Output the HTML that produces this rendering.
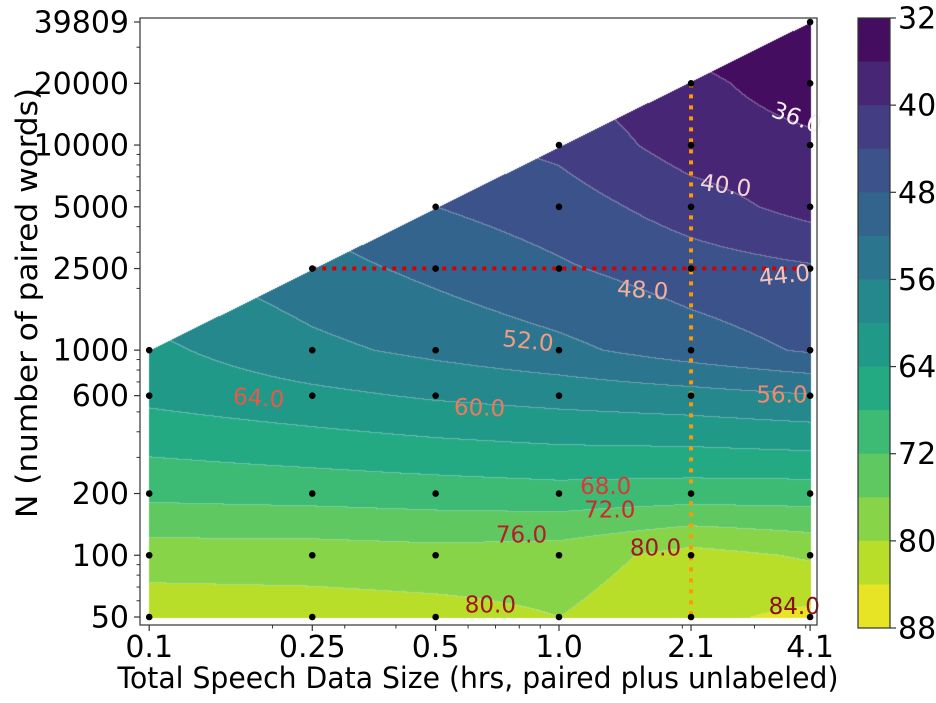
<!DOCTYPE html>
<html><head><meta charset="utf-8">
<style>
html,body{margin:0;padding:0;background:#fff;}
#wrap{position:relative;width:936px;height:703px;overflow:hidden;font-family:"DejaVu Sans","Liberation Sans",sans-serif;}
canvas{position:absolute;left:0;top:0;}
svg{position:absolute;left:0;top:0;}
</style></head>
<body>
<div id="wrap">
<canvas id="cv" width="936" height="703"></canvas>
<svg id="sv" width="936" height="703"></svg>
</div>
<script>
// ---- data ----
const xVals = [0.1, 0.25, 0.5, 1.0, 2.1, 4.1];
const yVals = [50, 100, 200, 600, 1000, 2500, 5000, 10000, 20000, 39809];
const row50    = [82.5, 82, 81.5, 80, 83, 85];
const row100   = [78, 78, 77.5, 78, 81.5, 79.5];
const row200   = [71, 70.5, 70, 69.5, 70, 70];
const row600   = [63, 61, 59.5, 58.5, 57.5, 56.3];
const row1000  = [61, 57, 55, 53, 50, 47.5];
const row2500  = [57, 53.5, 51, 48.5, 46, 44.5];
const row5000  = [54, 51, 48, 46, 42, 38.5];
const row10000 = [51, 48, 45, 43, 38, 36.8];
const row20000 = [48, 45, 42, 40, 37, 34];
const row39809 = [45, 42, 39, 37, 34, 32.5];
const levels = [32,36,40,44,48,52,56,60,64,68,72,76,80,84,88];
const cbTicks = [32,40,48,56,64,72,80,88];
const xTickLabels = ["0.1","0.25","0.5","1.0","2.1","4.1"];
const yTickLabels = ["50","100","200","600","1000","2500","5000","10000","20000","39809"];
const labelTexts = ["36.0","40.0","44.0","48.0","52.0","56.0","60.0","64.0","68.0","72.0","76.0","80.0","80.0","84.0"];
const labelX = [3.8, 2.55, 3.55, 1.6, 0.84, 3.5, 0.64, 0.185, 1.3, 1.33, 0.81, 1.72, 0.68, 3.75];
const labelY = [13500, 6300, 2300, 1950, 1100, 600, 520, 580, 215, 165, 125, 108, 57, 56];
const labelCol = ["#f5f0f5","#f6d3d6","#f7c1b7","#f2b09c","#ef9d86","#f08a6f","#ed7a5e","#e6594a","#d93a35","#cc2a2c","#b81d25","#a3151f","#a3151f","#8c0d1a"];
const labelRot = [20,8,-6,4,6,0,2,4,0,0,0,0,0,0];
const grid = [row50,row100,row200,row600,row1000,row2500,row5000,row10000,row20000,row39809];

// ---- axes ----
const X0=559, XS=409.8, Y0=617, YS=205.1, LY0=Math.log10(50);
function px(x){return X0+Math.log10(x)*XS;}
function py(y){return Y0-(Math.log10(y)-LY0)*YS;}
const FL=140, FR=817, FT=18, FB=625;

const vir=[[68,1,84],[72,36,117],[65,68,135],[53,95,141],[42,120,142],[33,145,140],[34,168,132],[68,191,112],[122,209,81],[189,223,38],[253,231,37]];
function viridis(t){t=Math.max(0,Math.min(1,t));const f=t*10,i=Math.min(9,Math.floor(f)),r=f-i;
 return vir[i].map((c,k)=>Math.round(c+(vir[i+1][k]-c)*r));}
function bandColor(i){return viridis((i+0.5)/(levels.length-1));}

const lxs=xVals.map(Math.log10), lys=yVals.map(Math.log10);
function seg(a,v){for(let i=0;i<a.length-2;i++){if(v<a[i+1])return i;}return a.length-2;}
function valAt(lx,ly){
 const i=seg(lxs,lx), j=seg(lys,ly);
 let tx=(lx-lxs[i])/(lxs[i+1]-lxs[i]), ty=(ly-lys[j])/(lys[j+1]-lys[j]);
 tx=Math.max(0,Math.min(1,tx)); ty=Math.max(0,Math.min(1,ty));
 const a=grid[j][i],b=grid[j][i+1],c=grid[j+1][i],d=grid[j+1][i+1];
 return (a*(1-tx)+b*tx)*(1-ty)+(c*(1-tx)+d*tx)*ty;
}
function band(v){let k=Math.floor((v-levels[0])/4);return Math.max(0,Math.min(levels.length-2,k));}

// ---- fill ----
const cv=document.getElementById('cv'),ctx=cv.getContext('2d');
const W=936,H=703,img=ctx.createImageData(W,H);
const xa=px(xVals[0]), xb=px(xVals[xVals.length-1]), yb=py(yVals[0]);
const yTopL=py(1000), yTopR=py(yVals[yVals.length-1]);
const B=new Int16Array(W*H).fill(-1);
for(let y=FT;y<=FB;y++)for(let x=Math.floor(xa);x<=Math.ceil(xb);x++){
 if(x<xa-0.5||x>xb+0.5||y>yb+0.5)continue;
 const topY=yTopL+(yTopR-yTopL)*(x-xa)/(xb-xa);
 if(y<topY)continue;
 const lx=(x-X0)/XS, ly=LY0+(Y0-y)/YS;
 B[y*W+x]=band(valAt(lx,ly));
}
for(let y=0;y<H;y++)for(let x=0;x<W;x++){
 const k=B[y*W+x]; if(k<0)continue;
 let c=bandColor(k);
 const r=B[y*W+x+1], d=B[(y+1)*W+x];
 if((r>=0&&r!==k)||(d>=0&&d!==k)){c=c.map(v=>Math.round(v*0.7+255*0.3));}
 const o=(y*W+x)*4; img.data[o]=c[0];img.data[o+1]=c[1];img.data[o+2]=c[2];img.data[o+3]=255;
}
ctx.putImageData(img,0,0);

// ---- svg overlay ----
const NS='http://www.w3.org/2000/svg', sv=document.getElementById('sv');
function mk(t,attrs,parent){const e=document.createElementNS(NS,t);for(const k in attrs)e.setAttribute(k,attrs[k]);(parent||sv).appendChild(e);return e;}

const refH=mk('line',{x1:px(0.25),x2:px(3.8),y1:py(2500),y2:py(2500),stroke:'#d40000','stroke-width':4,'stroke-dasharray':'4 6'});


const refV=mk('line',{x1:px(2.1),x2:px(2.1),y1:py(20000),y2:py(50),stroke:'#ff9900','stroke-width':4,'stroke-dasharray':'4 7'});



for(let j=0;j<yVals.length;j++)for(let i=0;i<xVals.length;i++){
 if(yVals[j]>xVals[i]*10000*1.001 && yVals[j]>1000)continue;
 const dt=mk('circle',{cx:px(xVals[i]),cy:py(yVals[j]),r:3.3,fill:'#000'});
 
 
}

for(let i=0;i<labelTexts.length;i++){
 const x=px(labelX[i]),y=py(labelY[i]);
 const t=mk('text',{x:x,y:y,fill:labelCol[i],'font-size':23,'text-anchor':'middle','dominant-baseline':'central',transform:`rotate(${labelRot[i]} ${x} ${y})`});
 t.textContent=labelTexts[i];
 
 
}

const fr=mk('rect',{x:FL,y:FT,width:FR-FL,height:FB-FT,fill:'none',stroke:'#333','stroke-width':1.2});



for(let i=0;i<xVals.length;i++){
 const x=px(xVals[i]);
 mk('line',{x1:x,x2:x,y1:FB,y2:FB+6,stroke:'#333','stroke-width':1.2});
 const t=mk('text',{x:x,y:657,'font-size':30,'text-anchor':'middle',fill:'#000'});
 t.textContent=xTickLabels[i];
 
 
}
[0.2,0.3,0.4,0.6,0.7,0.8,0.9,2,3,4].forEach(v=>{const x=px(v);mk('line',{x1:x,x2:x,y1:FB,y2:FB+3.5,stroke:'#333','stroke-width':1});});
for(let j=0;j<yVals.length;j++){
 const y=py(yVals[j]);
 mk('line',{x1:FL-6,x2:FL,y1:y,y2:y,stroke:'#333','stroke-width':1.2});
 const t=mk('text',{x:129,y:y+1,'font-size':30,'text-anchor':'end','dominant-baseline':'central',fill:'#000'});
 t.textContent=yTickLabels[j];
 
 
}
[60,70,80,90,300,400,500,700,800,900,2000,3000,4000,6000,7000,8000,9000,30000].forEach(v=>{const y=py(v);mk('line',{x1:FL-3.5,x2:FL,y1:y,y2:y,stroke:'#333','stroke-width':1});});

const xt=mk('text',{x:478,y:688,'font-size':29,'text-anchor':'middle',fill:'#000',textLength:721,lengthAdjust:'spacingAndGlyphs'});
xt.textContent='Total Speech Data Size (hrs, paired plus unlabeled)';


const yt=mk('text',{x:27,y:303,'font-size':29,'text-anchor':'middle','dominant-baseline':'central',fill:'#000',transform:'rotate(-90 27 303)',textLength:430,lengthAdjust:'spacingAndGlyphs'});
yt.textContent='N (number of paired words)';



const CBL=858,CBR=890,CBT=18,CBB=628,nb=levels.length-1,bh=(CBB-CBT)/nb;
for(let k=0;k<nb;k++){
 const c=bandColor(k);
 const r=mk('rect',{x:CBL,y:CBT+k*bh,width:CBR-CBL,height:bh+0.5,fill:`rgb(${c[0]},${c[1]},${c[2]})`});
 
 
}
mk('rect',{x:CBL,y:CBT,width:CBR-CBL,height:CBB-CBT,fill:'none',stroke:'#333','stroke-width':1.2});
cbTicks.forEach(v=>{
 const y=CBT+(v-levels[0])/(levels[levels.length-1]-levels[0])*(CBB-CBT);
 mk('line',{x1:CBR,x2:CBR+6,y1:y,y2:y,stroke:'#333','stroke-width':1.2});
 const t=mk('text',{x:898,y:y+1,'font-size':30,'dominant-baseline':'central',fill:'#000'});
 t.textContent=String(v);
 
 
});
</script>
</body></html>
